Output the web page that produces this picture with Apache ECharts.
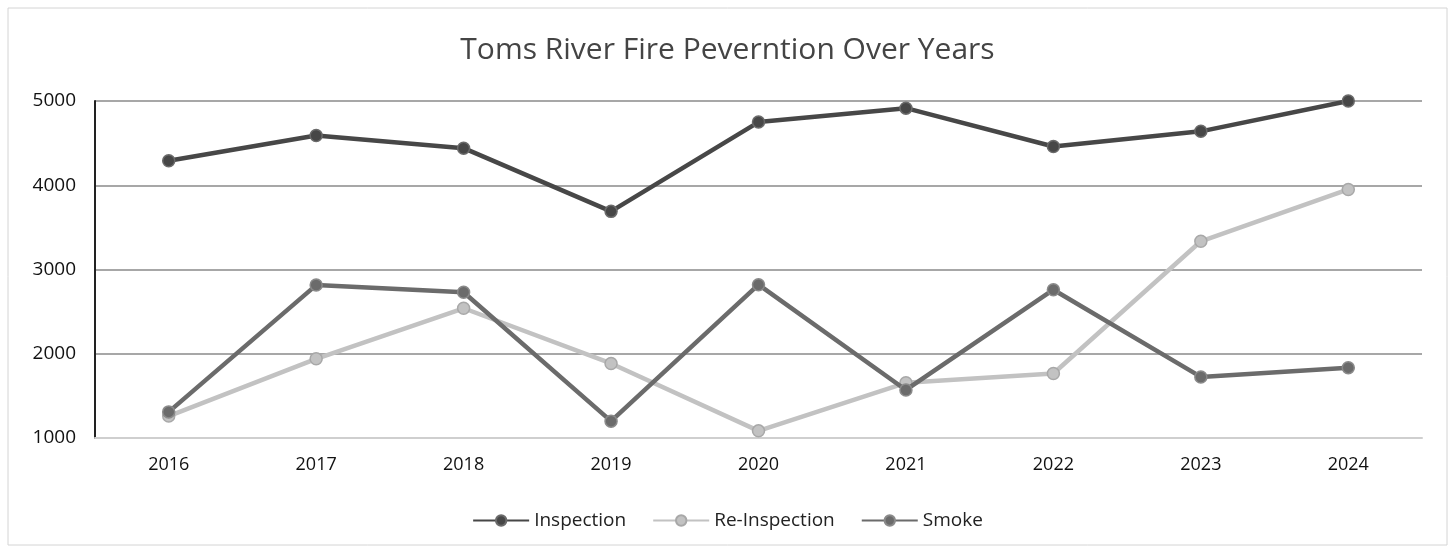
<!DOCTYPE html>
<html><head><meta charset="utf-8">
<script src="https://cdn.jsdelivr.net/npm/echarts@6/dist/echarts.min.js"></script>
<style>html,body{margin:0;padding:0;background:#fff;}#c{width:1455px;height:552px;}</style>
</head><body><div id="c"></div>
<script>
var years = ['2016','2017','2018','2019','2020','2021','2022','2023','2024'];
var inspection = [4290, 4590, 4440, 3690, 4750, 4915, 4460, 4640, 5000];
var reInspection = [1260, 1940, 2540, 1885, 1085, 1655, 1765, 3335, 3950];
var smoke = [1310, 2815, 2730, 1200, 2820, 1570, 2760, 1725, 1835];
var yTicks = [1000, 2000, 3000, 4000, 5000];

var chart = echarts.init(document.getElementById('c'), null, {renderer:'canvas'});
function ser(name, data, color, border, z) {
  return {
    name: name, type: 'line', data: data, z: z, clip: false,
    symbol: 'circle', symbolSize: 12,
    lineStyle: {color: color, width: 4.5},
    itemStyle: {color: color, borderColor: border, borderWidth: 1.5},
    emphasis: {disabled: true}
  };
}
chart.setOption({
  animation: false,
  backgroundColor: '#fff',
  graphic: [{type:'rect', shape:{x:8, y:8, width:1439, height:537}, style:{fill:'none', stroke:'#d4d4d4', lineWidth:1}, silent:true}],
  title: {
    text: 'Toms River Fire Peverntion Over Years', left: 'center', top: 30,
    textStyle: {fontFamily: 'Open Sans', fontWeight: 'normal', fontSize: 30, color: '#444'}
  },
  legend: {
    bottom: 17, left: 'center', itemWidth: 56, itemHeight: 13, itemGap: 26,
    textStyle: {fontFamily: 'Open Sans', fontSize: 19, color: '#222'},
    data: ['Inspection', 'Re-Inspection', 'Smoke']
  },
  grid: {left: 95, right: 33, top: 101, bottom: 114},
  xAxis: {
    type: 'category', data: years, boundaryGap: true,
    axisLine: {lineStyle: {color: '#cfcfcf', width: 2}},
    axisTick: {show: false},
    axisLabel: {fontFamily: 'Open Sans', fontSize: 18, color: '#111', margin: 18}
  },
  yAxis: {
    type: 'value', min: yTicks[0], max: yTicks[yTicks.length-1], interval: 1000,
    axisLine: {show: true, lineStyle: {color: '#222', width: 2}},
    axisTick: {show: false},
    axisLabel: {fontFamily: 'Open Sans', fontSize: 19, color: '#111', margin: 19, formatter: function(v){return String(v);}},
    splitLine: {lineStyle: {color: '#8a8a8a', width: 1.5}}
  },
  series: [
    ser('Inspection', inspection, '#474747', '#6a6a6a', 4),
    ser('Re-Inspection', reInspection, '#c2c2c2', '#a8a8a8', 2),
    ser('Smoke', smoke, '#6b6b6b', '#8a8a8a', 3)
  ]
});
</script></body></html>
